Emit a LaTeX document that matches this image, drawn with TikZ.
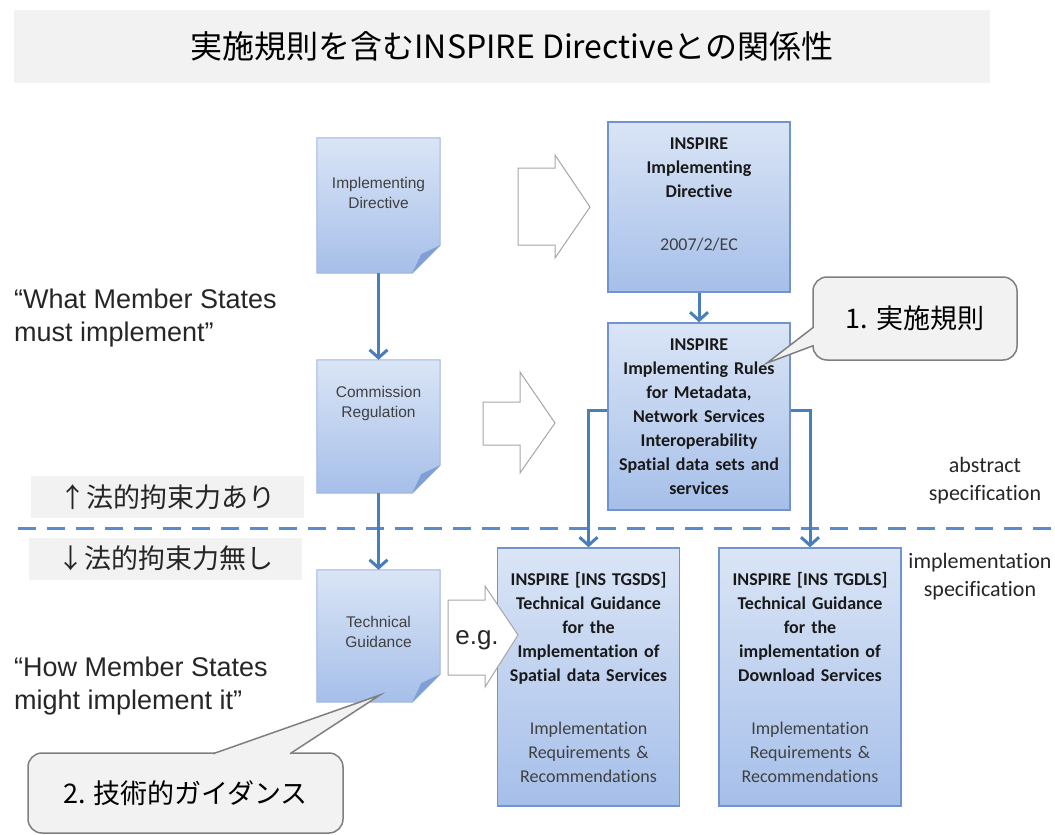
\documentclass[tikz,border=0pt]{standalone}
\usepackage{fontspec}
\setmainfont{Liberation Sans}
\newfontfamily\cjkfont{Noto Sans CJK JP}
\newfontfamily\calfont[Ligatures=NoCommon]{Carlito}
\usetikzlibrary{arrows.meta,positioning}

\definecolor{linkblue}{HTML}{4A7EBB}
\definecolor{dashblue}{HTML}{5B8BC8}
\definecolor{boxedge}{HTML}{7094CB}
\definecolor{docedge}{HTML}{9DB5E0}
\definecolor{boxtop}{HTML}{DAE5F6}
\definecolor{boxbot}{HTML}{A6BFE9}
\definecolor{foldblue}{HTML}{809FD6}
\definecolor{panelgray}{HTML}{F2F2F2}
\definecolor{calledge}{HTML}{7F7F7F}
\definecolor{arrowedge}{HTML}{A6A6A6}
\definecolor{inktext}{HTML}{262626}
\definecolor{softtext}{HTML}{404040}

\begin{document}
\begin{tikzpicture}[x=1pt, y=-1pt,
    titletext/.style={font=\cjkfont\fontsize{32}{36}\selectfont, text=black, inner sep=0pt},
    docbox/.style={minimum width=123pt, inner sep=0pt},
    docfill/.style={top color=boxtop, bottom color=boxbot, draw=docedge, line width=1pt},
    doctext/.style={font=\fontsize{15.5}{20}\selectfont, text=softtext, align=center, inner sep=0pt},
    specbox/.style={draw=boxedge, line width=1.5pt, top color=boxtop, bottom color=boxbot, minimum width=182pt, inner sep=0pt, text width=180pt, align=center, font=\calfont\bfseries\fontsize{18}{24}\selectfont, text=black!90},
    spectext/.style={text width=180pt, align=center, inner sep=0pt, font=\calfont\bfseries\fontsize{18}{24}\selectfont, text=black!90},
    hollowarrow/.style={draw=arrowedge, fill=white, line width=1pt, line join=miter},
    flowlink/.style={draw=linkblue, line width=3pt, -{Straight Barb[length=8pt, width=18pt]}},
    divider/.style={dashblue, line width=3pt, dash pattern=on 18pt off 11pt},
    legalbox/.style={fill=panelgray, minimum width=273pt, minimum height=42pt, inner sep=0pt, font=\cjkfont\fontsize{27}{30}\selectfont, text=inktext},
    sayingtext/.style={font=\fontsize{27}{33}\selectfont, align=left, inner sep=0pt, text=inktext},
    layertext/.style={font=\calfont\fontsize{22}{28}\selectfont, align=center, inner sep=0pt, text=inktext},
    callbox/.style={draw=calledge, fill=panelgray, line width=1.5pt, rounded corners=14pt, inner sep=0pt, font=\cjkfont\fontsize{27}{30}\selectfont, text=black},
    callptr/.style={draw=calledge, fill=panelgray, line width=1.5pt, line join=miter}
  ]
  \useasboundingbox (0,0) rectangle (1055,835);

  % Title bar
  \fill[panelgray] (14,10) rectangle (990,83);
  \node[titletext] (title) at (512,46) {実施規則を含むINSPIRE Directiveとの関係性};

  % Legal boundary
  \draw[divider] (18,528) -- (1055,528);
  \node[legalbox] (legalyes) at (167.5,497) {↑法的拘束力あり};
  \node[legalbox] (legalno) at (165.5,558.5) {↓法的拘束力無し};

  % Left-hand sayings
  \node[sayingtext, anchor=west] (whatsay) at (14,318) {“What Member States\\must implement”};
  \node[sayingtext, anchor=west] (howsay) at (14,686) {“How Member States\\might implement it”};

  % Document boxes (folded corner)
  \node[docbox, minimum height=135pt] (impdir) at (378.5,205.5) {};
  \node[docbox, minimum height=133pt] (comreg) at (378.5,426.5) {};
  \node[docbox, minimum height=132pt] (techguid) at (378.5,636) {};
  \foreach \d in {impdir, comreg, techguid} {
    \path[docfill] (\d.north west) -- (\d.north east) -- ([yshift=28pt]\d.south east)
      -- ([xshift=-28pt]\d.south east) -- (\d.south west) -- cycle;
    \fill[foldblue] ([yshift=28pt]\d.south east) -- ([xshift=-28pt]\d.south east)
      -- ([xshift=-19pt, yshift=19pt]\d.south east) -- cycle;
  }
  \node[doctext] (impdirtext) at (378.5,193) {Implementing\\Directive};
  \node[doctext] (comregtext) at (378.5,403) {Commission\\Regulation};
  \node[doctext] (techguidtext) at (378.5,632) {Technical\\Guidance};

  % Hollow block arrows
  \draw[hollowarrow] (518,168) -- (555,168) -- (555,155) -- (590,207) -- (555,258) -- (555,245) -- (518,245) -- cycle;
  \draw[hollowarrow] (483,402) -- (520,402) -- (520,372) -- (555,423) -- (520,473) -- (520,445) -- (483,445) -- cycle;

  % INSPIRE boxes
  \node[specbox, minimum height=170pt] (irdir) at (699,207) {};
  \node[spectext] (irdirtext) at (699,194) {INSPIRE\\Implementing\\Directive\\[29pt]{\mdseries\color{softtext}2007/2/EC}};
  \node[specbox, minimum height=187pt] (irrules) at (699,416.5) {INSPIRE\\Implementing Rules\\for Metadata,\\Network Services\\Interoperability\\Spatial data sets and\\services};
  \node[specbox, minimum height=258pt] (tgsds) at (588.5,677) {INSPIRE [INS TGSDS]\\Technical Guidance\\for the\\Implementation of\\Spatial data Services\\[29pt]{\mdseries\color{softtext}Implementation\\Requirements \&\\Recommendations}};
  \node[specbox, minimum height=258pt] (tgdls) at (810,677) {INSPIRE [INS TGDLS]\\Technical Guidance\\for the\\implementation of\\Download Services\\[29pt]{\mdseries\color{softtext}Implementation\\Requirements \&\\Recommendations}};

  % e.g. arrow
  \draw[hollowarrow] (448,600) -- (485,600) -- (485,586) -- (518,635) -- (485,687) -- (485,675) -- (448,675) -- cycle;
  \node[font=\fontsize{26}{30}\selectfont, text=inktext, inner sep=0pt] (eg) at (477,640) {e.g.};

  % Connectors
  \draw[flowlink] (impdir.south) -- (comreg.north);
  \draw[flowlink] (comreg.south) -- (techguid.north);
  \draw[flowlink] (irdir.south) -- (irrules.north);
  \draw[flowlink] ([yshift=6pt]irrules.west) -| (tgsds.north);
  \draw[flowlink] ([yshift=6pt]irrules.east) -| (tgdls.north);

  % Specification levels
  \node[layertext] (abstractlab) at (985,481) {abstract\\specification};
  \node[layertext] (impllab) at (980,577) {implementation\\specification};

  % Callouts
  \node[callbox, minimum width=204pt, minimum height=83pt] (rulescall) at (915,318.5) {1. 実施規則};
  \coordinate (rulestip) at (767,363);
  \filldraw[callptr] ([xshift=1.5pt, yshift=-8.5pt]rulescall.west) -- (rulestip) -- ([xshift=1.5pt, yshift=-27pt]rulescall.west);
  \node[callbox, minimum width=315pt, minimum height=80pt] (guidecall) at (185.5,793) {2. 技術的ガイダンス};
  \coordinate (guidetip) at (380,695);
  \filldraw[callptr] ([xshift=27.5pt, yshift=-1.5pt]guidecall.north) -- (guidetip) -- ([xshift=104.5pt, yshift=-1.5pt]guidecall.north);

\end{tikzpicture}
\end{document}
